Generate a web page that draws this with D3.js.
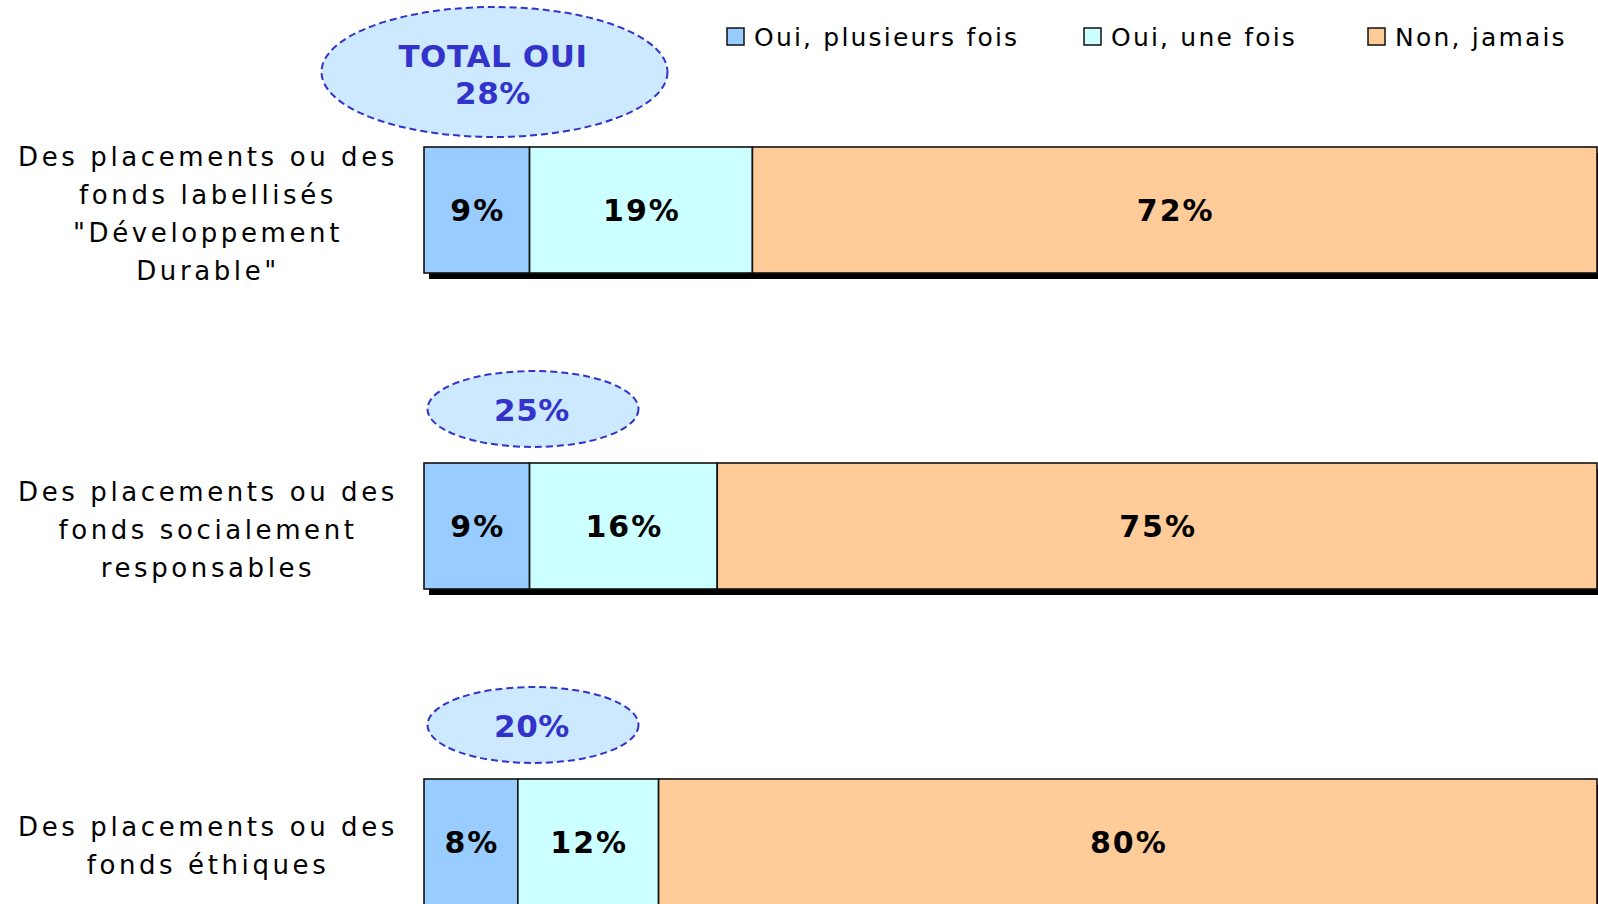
<!DOCTYPE html>
<html>
<head>
<meta charset="utf-8">
<script src="https://cdn.jsdelivr.net/npm/d3@7/dist/d3.min.js"></script>
<style>
  html, body { margin: 0; padding: 0; background: #fff; overflow: hidden; }
  svg { display: block; }
</style>
</head>
<body>
<div id="chart"></div>
<script>
// catégories (lignes du libellé)
const CATS = ["dev", "social", "ethique"];
const CAT_LINES = [
  ["Des placements ou des", "fonds labellisés", "\"Développement", "Durable\""],
  ["Des placements ou des", "fonds socialement", "responsables"],
  ["Des placements ou des", "fonds éthiques"]
];
const SERIES = ["Oui, plusieurs fois", "Oui, une fois", "Non, jamais"];
const PLUSIEURS = [9, 9, 8];
const UNE = [19, 16, 12];
const JAMAIS = [72, 75, 80];
const TOTAL_OUI = [28, 25, 20];
const COLORS = ["#99ccff", "#ccffff", "#ffcc99"];

const W = 1598, H = 904;
const FONT = "'DejaVu Sans', Verdana, sans-serif";

const svg = d3.select("#chart").append("svg").attr("width", W).attr("height", H);

const x = d3.scaleLinear().domain([0, 100]).range([424, 1597]);
const y = d3.scaleBand().domain(CATS).range([147, 905]).paddingInner(190 / 316).paddingOuter(0);
const bh = y.bandwidth();

const rows = CATS.map((c, i) => {
  const vals = [PLUSIEURS[i], UNE[i], JAMAIS[i]];
  let acc = 0;
  return { cat: c, segs: vals.map((v, k) => { const s = { v, k, x0: acc }; acc += v; return s; }) };
});

// ombre
svg.append("g").selectAll("rect").data(rows).join("rect")
  .attr("x", x(0) + 5).attr("y", d => y(d.cat) + 6)
  .attr("width", x(100) - x(0)).attr("height", bh).attr("fill", "#000");

// segments
const rg = svg.append("g").selectAll("g").data(rows).join("g");
rg.selectAll("rect").data(d => d.segs.map(s => ({ ...s, cat: d.cat }))).join("rect")
  .attr("x", s => x(s.x0)).attr("y", s => y(s.cat))
  .attr("width", s => x(s.x0 + s.v) - x(s.x0)).attr("height", bh)
  .attr("fill", s => COLORS[s.k]).attr("stroke", "#111").attr("stroke-width", 1.6);
rg.selectAll("text").data(d => d.segs.map(s => ({ ...s, cat: d.cat }))).join("text")
  .attr("x", s => (x(s.x0) + x(s.x0 + s.v)) / 2 + 1).attr("y", s => y(s.cat) + bh / 2 + 11)
  .attr("text-anchor", "middle").attr("font-family", FONT).attr("font-weight", "bold")
  .attr("font-size", 30).attr("letter-spacing", 2).attr("fill", "#000")
  .text(s => s.v + "%");

// libellés des catégories
const lab = svg.append("g").selectAll("text").data(CATS).join("text")
  .attr("text-anchor", "middle").attr("font-family", FONT).attr("font-size", 26)
  .attr("letter-spacing", 3.6).attr("fill", "#000");
lab.each(function (c, i) {
  const lines = CAT_LINES[i];
  const mid = y(c) + bh / 2 + 3;
  const top = mid - (lines.length - 1) * 38 / 2;
  d3.select(this).selectAll("tspan").data(lines).join("tspan")
    .attr("x", 208).attr("y", (l, j) => top + j * 38 + 10).text(l => l);
});

// ellipses "total oui"
const ann = svg.append("g").selectAll("g").data(CATS).join("g");
ann.append("ellipse")
  .attr("cx", (c, i) => i === 0 ? 494.5 : 533)
  .attr("cy", (c, i) => i === 0 ? y(c) - 75 : y(c) - 54)
  .attr("rx", (c, i) => i === 0 ? 173 : 105.5)
  .attr("ry", (c, i) => i === 0 ? 65 : 38)
  .attr("fill", "#cce9ff").attr("stroke", "#3333cc").attr("stroke-width", 2)
  .attr("stroke-dasharray", "7 4");
ann.each(function (c, i) {
  const t = d3.select(this).append("text").attr("text-anchor", "middle")
    .attr("font-family", FONT).attr("font-weight", "bold").attr("font-size", 31)
    .attr("letter-spacing", 0.6).attr("fill", "#3333cc");
  if (i === 0) {
    t.append("tspan").attr("x", 493).attr("y", y(c) - 80).text("TOTAL OUI");
    t.append("tspan").attr("x", 493).attr("y", y(c) - 43).text(TOTAL_OUI[i] + "%");
  } else {
    t.append("tspan").attr("x", 532).attr("y", y(c) - 42).text(TOTAL_OUI[i] + "%");
  }
});

// légende
const LEG_X = [727, 1084, 1368];
const leg = svg.append("g").selectAll("g").data(SERIES).join("g")
  .attr("transform", (d, i) => `translate(${LEG_X[i]},28)`);
leg.append("rect").attr("width", 17).attr("height", 17)
  .attr("fill", (d, i) => COLORS[i]).attr("stroke", "#111").attr("stroke-width", 1.5);
leg.append("text").attr("x", 27).attr("y", 18).attr("font-family", FONT)
  .attr("font-size", 25).attr("letter-spacing", 2.2).attr("fill", "#000").text(d => d);
</script>
</body>
</html>
